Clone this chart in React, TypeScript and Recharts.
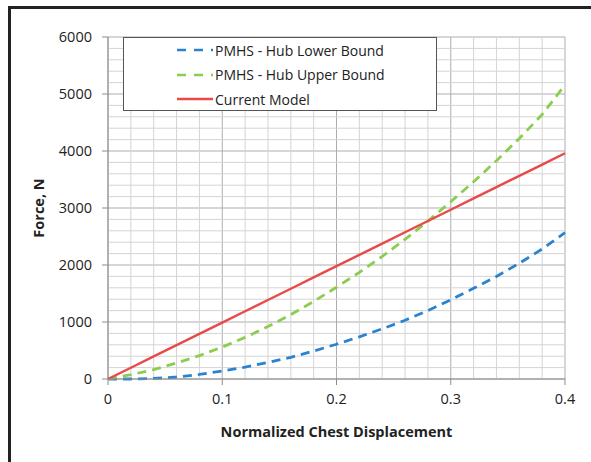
import { LineChart, Line, XAxis, YAxis, CartesianGrid, Legend, ReferenceLine } from "recharts"

const xValues = [0, 0.02, 0.04, 0.06, 0.08, 0.1, 0.12, 0.14, 0.16, 0.18, 0.2, 0.22, 0.24, 0.26, 0.28, 0.3, 0.32, 0.34, 0.36, 0.38, 0.4]
const lowerBound = [0, 0, 10, 35, 80, 140, 210, 290, 380, 490, 610, 740, 880, 1030, 1200, 1390, 1590, 1800, 2030, 2280, 2570]
const upperBound = [0, 75, 165, 280, 410, 560, 730, 920, 1130, 1360, 1610, 1870, 2150, 2450, 2770, 3110, 3460, 3830, 4220, 4640, 5160]
const currentModel = [0, 198, 396, 594, 792, 990, 1188, 1386, 1584, 1782, 1980, 2178, 2376, 2574, 2772, 2970, 3168, 3366, 3564, 3762, 3960]

const xTicks = [0, 0.1, 0.2, 0.3, 0.4]
const xMinorTicks = [0.02, 0.04, 0.06, 0.08, 0.12, 0.14, 0.16, 0.18, 0.22, 0.24, 0.26, 0.28, 0.32, 0.34, 0.36, 0.38]
const yTicks = [0, 1000, 2000, 3000, 4000, 5000, 6000]
const yMinorTicks = [200, 400, 600, 800, 1200, 1400, 1600, 1800, 2200, 2400, 2600, 2800, 3200, 3400, 3600, 3800, 4200, 4400, 4600, 4800, 5200, 5400, 5600, 5800]

const seriesNames = ["PMHS - Hub Lower Bound", "PMHS - Hub Upper Bound", "Current Model"]

const data = xValues.map((x, i) => ({
    x,
    lower: lowerBound[i],
    upper: upperBound[i],
    model: currentModel[i],
}))

const font = "'Open Sans', sans-serif"

function LegendBox({ payload }: any) {
    const items = [...(payload || [])].sort((a: any, b: any) => seriesNames.indexOf(a.value) - seriesNames.indexOf(b.value))
    return (
        <div style={{ border: "1.5px solid #555", background: "#fff", width: 314, height: 74, boxSizing: "border-box" }}>
            {items.map((p: any, i: number) => (
                <div key={i} style={{ display: "flex", alignItems: "center", height: 24.5 }}>
                    <svg width={40} height={10} style={{ marginLeft: 51 }}>
                        <line x1={2} y1={5} x2={38} y2={5} stroke={p.color} strokeWidth={2.6} strokeDasharray={p.payload.strokeDasharray ? "9 8" : undefined} />
                    </svg>
                    <span style={{ fontFamily: font, fontSize: 14, color: "#222" }}>{p.value}</span>
                </div>
            ))}
        </div>
    )
}

export default function App() {
    return (
        <div style={{ position: "absolute", left: 0, top: 0, width: 591, height: 462, overflow: "hidden", background: "#fff" }}>
            <div style={{ position: "absolute", left: 8, top: 6, width: 600, height: 500, borderTop: "3px solid #222", borderLeft: "3px solid #222" }} />
            <div style={{ position: "absolute", left: 0, top: 0 }}>
                <LineChart width={591} height={462} data={data} margin={{ top: 37, right: 26, bottom: 53, left: 0 }}>
                    <CartesianGrid stroke="#adadad" strokeWidth={1} />
                    {xMinorTicks.map((t) => (
                        <ReferenceLine key={"vx" + t} x={t} stroke="#d4d4d4" strokeWidth={1} />
                    ))}
                    {yMinorTicks.map((t) => (
                        <ReferenceLine key={"hy" + t} y={t} stroke="#d4d4d4" strokeWidth={1} />
                    ))}
                    <XAxis
                        dataKey="x"
                        type="number"
                        domain={[0, 0.4]}
                        ticks={xTicks}
                        tickFormatter={(v: number) => String(v)}
                        stroke="#8c8c8c"
                        tickSize={6}
                        tickMargin={9}
                        height={30}
                        tick={{ fill: "#222", fontFamily: font, fontSize: 14.5 }}
                        label={{
                            content: ({ viewBox }: any) => (
                                <text
                                    x={viewBox.x + viewBox.width / 2}
                                    y={viewBox.y + 58}
                                    textAnchor="middle"
                                    fill="#222"
                                    fontFamily={font}
                                    fontSize={14.5}
                                    fontWeight="bold"
                                >
                                    Normalized Chest Displacement
                                </text>
                            ),
                        }}
                    />
                    <YAxis
                        type="number"
                        domain={[0, 6000]}
                        ticks={yTicks}
                        width={108}
                        stroke="#8c8c8c"
                        tickSize={6}
                        tickMargin={10}
                        tick={{ fill: "#222", fontFamily: font, fontSize: 14.5 }}
                        label={{
                            content: ({ viewBox }: any) => (
                                <text
                                    x={44}
                                    y={viewBox.y + viewBox.height / 2}
                                    transform={`rotate(-90, 44, ${viewBox.y + viewBox.height / 2})`}
                                    textAnchor="middle"
                                    fill="#222"
                                    fontFamily={font}
                                    fontSize={14.5}
                                    fontWeight="bold"
                                >
                                    Force, N
                                </text>
                            ),
                        }}
                    />
                    <Legend
                        content={<LegendBox />}
                        layout="horizontal"
                        verticalAlign="middle"
                        align="center"
                        wrapperStyle={{ left: 123, top: 37, width: 314, height: 74 }}
                    />
                    <Line dataKey="lower" name={seriesNames[0]} stroke="#2a83d0" strokeWidth={2.8} strokeDasharray="9 6" dot={false} isAnimationActive={false} />
                    <Line dataKey="upper" name={seriesNames[1]} stroke="#8ccc4e" strokeWidth={2.8} strokeDasharray="9 6" dot={false} isAnimationActive={false} />
                    <Line dataKey="model" name={seriesNames[2]} stroke="#e84a4a" strokeWidth={2.4} dot={false} isAnimationActive={false} />
                </LineChart>
            </div>
        </div>
    )
}
